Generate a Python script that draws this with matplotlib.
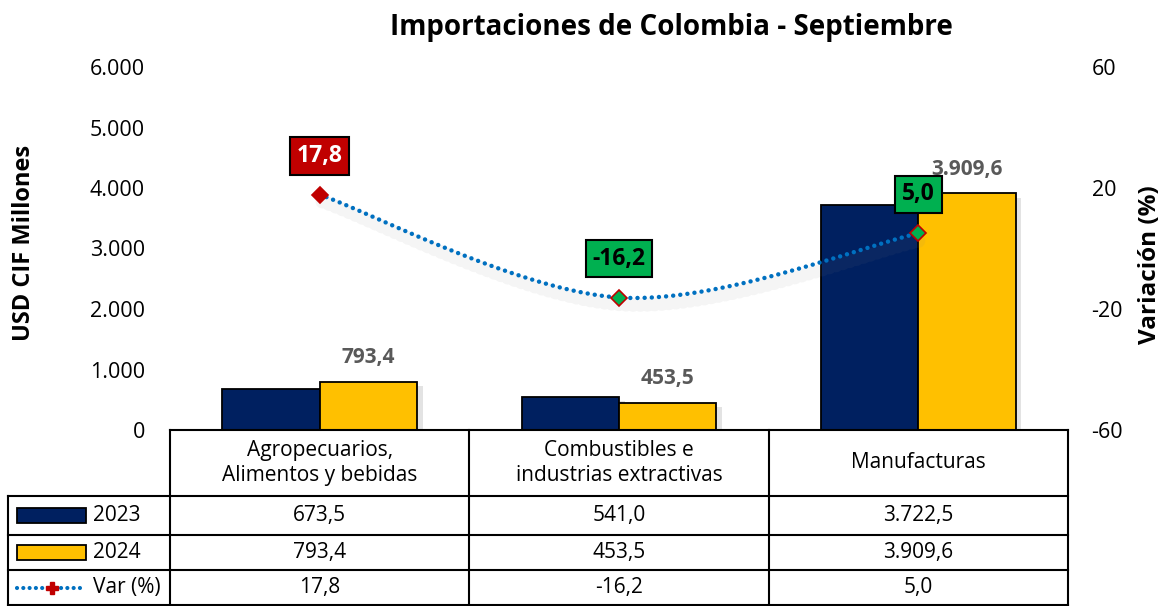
import matplotlib.pyplot as plt
import matplotlib.patheffects as pe
from matplotlib.patches import Rectangle
from matplotlib.lines import Line2D
import numpy as np

plt.rcParams['font.family'] = ['Open Sans', 'DejaVu Sans']

# datos
categorias = ["Agropecuarios,\nAlimentos y bebidas",
              "Combustibles e\nindustrias extractivas",
              "Manufacturas"]
v2023 = [673.5, 541.0, 3722.5]
v2024 = [793.4, 453.5, 3909.6]
var_pct = [17.8, -16.2, 5.0]
series = ["2023", "2024", "Var (%)"]

NAVY = "#002060"
GOLD = "#FFC000"
RED = "#C00000"
GREEN = "#00B050"
BLUE = "#0070C0"


def fmt_es(v, dec=1):
    s = f"{v:,.{dec}f}"
    return s.replace(",", "X").replace(".", ",").replace("X", ".")


def smooth(xs, ys, n=60):
    # curva suavizada tipo Excel (Catmull-Rom en Bezier)
    pts = np.column_stack([xs, ys]).astype(float)
    ext = np.vstack([pts[0], pts, pts[-1]])
    out = []
    for i in range(len(pts) - 1):
        p0, p1, p2, p3 = ext[i], ext[i + 1], ext[i + 2], ext[i + 3]
        c1 = p1 + (p2 - p0) / 6
        c2 = p2 - (p3 - p1) / 6
        t = np.linspace(0, 1, n)[:, None]
        seg = ((1 - t) ** 3) * p1 + 3 * ((1 - t) ** 2) * t * c1 + 3 * (1 - t) * t ** 2 * c2 + t ** 3 * p2
        out.append(seg)
    c = np.vstack(out)
    return c[:, 0], c[:, 1]


fig = plt.figure(figsize=(11.67, 6.06), dpi=100)
ax = fig.add_axes([170 / 1167, 1 - 430 / 606, 898 / 1167, 363 / 606])
ax2 = ax.twinx()

x = np.arange(len(categorias))
w = 0.325
shadow = [pe.withSimplePatchShadow(offset=(4, -3), shadow_rgbFace="gray", alpha=0.22)]
b1 = ax.bar(x - w / 2, v2023, w, color=NAVY, edgecolor="black", linewidth=1.3, path_effects=shadow, zorder=2)
b2 = ax.bar(x + w / 2, v2024, w, color=GOLD, edgecolor="black", linewidth=1.3, path_effects=shadow, zorder=2)

for xi, v in zip(x, v2024):
    ax.annotate(fmt_es(v), (xi + w / 2, v), xytext=(0, 10), textcoords="offset points",
                ha="center", va="bottom", fontsize=15, fontweight="bold", color="#595959")

ax.set_xlim(-0.5, 2.5)
ax.set_ylim(0, 6000)
ax.set_yticks(np.arange(0, 6001, 1000))
ax.set_yticklabels([fmt_es(t, 0) for t in np.arange(0, 6001, 1000)], fontsize=15.5)
ax.set_xticks([])
ax.tick_params(axis="y", length=0, pad=18)
for s in ax.spines.values():
    s.set_visible(False)
fig.text(24 / 1167, 1 - 243 / 606, "USD CIF Millones", rotation=90, ha="center", va="center",
         fontsize=17, fontweight="bold")

# linea de variacion
sx, sy = smooth(x, var_pct)
ax2.plot(sx, sy, color=BLUE, lw=3.2, linestyle=(0, (0.01, 1.6)), dash_capstyle="round",
         path_effects=[pe.SimpleLineShadow(offset=(2, -5), shadow_color="gray", alpha=0.08, linewidth=10),
                       pe.Normal()], zorder=3)
mcolors = [RED if v > 10 else GREEN for v in var_pct]
for xi, v, c in zip(x, var_pct, mcolors):
    ax2.plot(xi, v, marker="D", ms=8, mfc=c, mec=RED, mew=1.2, zorder=4)
    tc = "white" if c == RED else "black"
    ax2.annotate(fmt_es(v), (xi, v), xytext=(0, 28), textcoords="offset points",
                 ha="center", va="center", fontsize=16.5, fontweight="bold", color=tc, zorder=5,
                 bbox=dict(boxstyle="square,pad=0.3", fc=c, ec="black", lw=1.5))

ax2.set_ylim(-60, 60)
ax2.set_yticks([-60, -20, 20, 60])
ax2.set_yticklabels(["-60", "-20", "20", "60"], fontsize=15.5)
ax2.tick_params(axis="y", length=0, pad=17)
for s in ax2.spines.values():
    s.set_visible(False)
fig.text(1150 / 1167, 1 - 265 / 606, "Variación (%)", rotation=90, ha="center", va="center",
         fontsize=17.5, fontweight="bold")

fig.text(671 / 1167, 1 - 27 / 606, "Importaciones de Colombia - Septiembre",
         ha="center", va="center", fontsize=20, fontweight="bold")

# tabla de datos
H = 363.0
def ay(py):
    return -(py - 430) / H

px = 1 / 299.3
xl = -0.5 - 162 * px
rows_y = [ay(430), ay(496), ay(535), ay(570), ay(605)]
kw = dict(color="black", lw=1.5, transform=ax.get_xaxis_transform(), clip_on=False)
ax.add_line(Line2D([-0.5, 2.5], [rows_y[0]] * 2, **kw))
for yy in rows_y[1:]:
    ax.add_line(Line2D([xl, 2.5], [yy] * 2, **kw))
for xb in [-0.5, 0.5, 1.5, 2.5]:
    ax.add_line(Line2D([xb, xb], [rows_y[0], rows_y[-1]], **kw))
ax.add_line(Line2D([xl, xl], [rows_y[1], rows_y[-1]], **kw))

tr = ax.get_xaxis_transform()
for xi, cat in zip(x, categorias):
    ax.text(xi, (rows_y[0] + rows_y[1]) / 2, cat, ha="center", va="center", fontsize=15,
            transform=tr, linespacing=1.3)
valores = [v2023, v2024, var_pct]
for r, vals in enumerate(valores):
    yc = (rows_y[r + 1] + rows_y[r + 2]) / 2
    for xi, v in zip(x, vals):
        ax.text(xi, yc, fmt_es(v), ha="center", va="center", fontsize=15, transform=tr)

# simbolos de leyenda en la tabla
for r, (lab, col) in enumerate(zip(series[:2], [NAVY, GOLD])):
    yc = (rows_y[r + 1] + rows_y[r + 2]) / 2
    ax.add_patch(Rectangle((-0.5 - 153 * px, yc - 7.5 / H), 69 * px, 15 / H, fc=col, ec="black",
                           lw=1.3, transform=tr, clip_on=False))
    ax.text(-0.5 - 77 * px, yc, lab, ha="left", va="center", fontsize=15, transform=tr)
yc = (rows_y[3] + rows_y[4]) / 2
ax.add_line(Line2D([-0.5 - 153 * px, -0.5 - 84 * px], [yc, yc], color=BLUE, lw=3,
                   linestyle=(0, (0.01, 1.5)), dash_capstyle="round", transform=tr, clip_on=False))
ax.add_line(Line2D([-0.5 - 118 * px], [yc], marker="P", ms=8, color=RED, transform=tr, clip_on=False))
ax.text(-0.5 - 77 * px, yc, series[2], ha="left", va="center", fontsize=15, transform=tr)

fig.savefig("out.png", dpi=100)
